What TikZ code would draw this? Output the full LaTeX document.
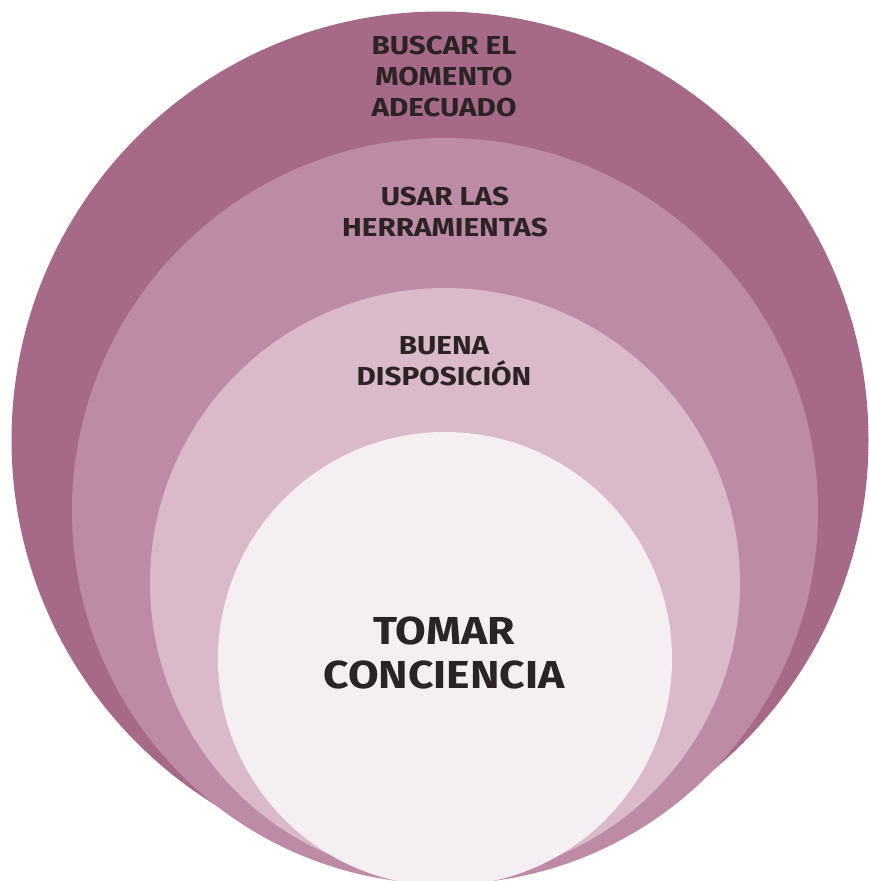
\documentclass[tikz,border=0pt]{standalone}
\usepackage{fontspec}
\setmainfont{Fira Sans}
\newfontfamily\ringfont[FakeStretch=1.14]{Fira Sans}

\definecolor{ringA}{HTML}{A66A88}
\definecolor{ringB}{HTML}{BE8BA6}
\definecolor{ringC}{HTML}{D9B9CA}
\definecolor{ringD}{HTML}{F5EFF4}
\definecolor{ink}{HTML}{2B2326}

\tikzset{
  ring/.style={circle,draw=none,inner sep=0pt,outer sep=0pt},
  label/.style={align=center,text=ink,inner sep=0pt,
    font=\ringfont\bfseries\fontsize{26}{31}\selectfont},
  biglabel/.style={label,font=\ringfont\bfseries\fontsize{39}{44}\selectfont}
}

\begin{document}
\begin{tikzpicture}[x=1pt,y=-1pt]
        % Frame
        \useasboundingbox (0,0) rectangle (869,881);
        \clip (0,0) rectangle (869,881);

        % Rings, from outside in
        \node[ring,fill=ringA,minimum size=857pt] (outer) at (440,440) {};
        \node[ring,fill=ringB,minimum size=746pt] (second) at (445,511) {};
        \node[ring,fill=ringC,minimum size=590pt] (third) at (445,583) {};
        \node[ring,fill=ringD,minimum size=454pt] (inner) at (445,659) {};

        % Labels
        \node[label] (momento) at (444,76) {BUSCAR EL\\MOMENTO\\ADECUADO};
        \node[label] (herramientas) at (445,212) {USAR LAS\\HERRAMIENTAS};
        \node[label] (disposicion) at (444,361) {BUENA\\DISPOSICIÓN};
        \node[biglabel] (conciencia) at (444,653) {TOMAR\\CONCIENCIA};
      \end{tikzpicture}
\end{document}
